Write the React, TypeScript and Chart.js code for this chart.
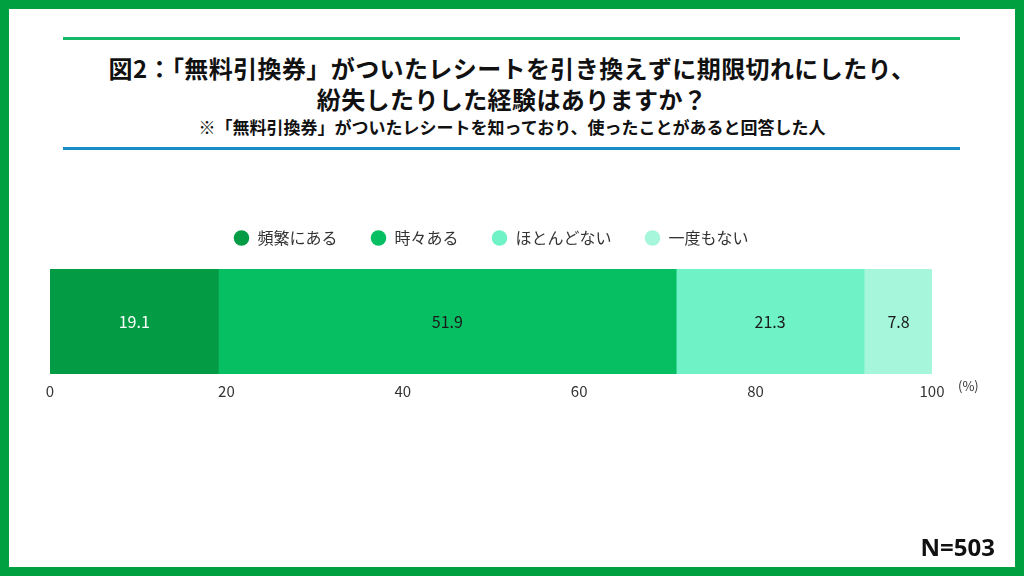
import React, { useEffect, useRef } from "react";
import { Chart, registerables } from "chart.js";

Chart.register(...registerables);

const categories = ["回答"];
const seriesNames = ["頻繁にある", "時々ある", "ほとんどない", "一度もない"];
const seriesValues = [19.1, 51.9, 21.3, 7.8];
const seriesColors = ["#049B45", "#05BF62", "#6EF2C6", "#A5F6DA"];
const labelColors = ["#FFFFFF", "#1A1A1A", "#1A1A1A", "#1A1A1A"];
const tickValues = [0, 20, 40, 60, 80, 100];

const titleLine1 = "図2：「無料引換券」がついたレシートを引き換えずに期限切れにしたり、";
const titleLine2 = "紛失したりした経験はありますか？";
const subTitle = "※「無料引換券」がついたレシートを知っており、使ったことがあると回答した人";
const sampleNote = "N=503";

const FONT = "'Noto Sans CJK JP', 'Noto Sans', sans-serif";

export default function App() {
  const canvasRef = useRef<HTMLCanvasElement | null>(null);

  useEffect(() => {
    document.body.style.margin = "0";
    const canvas = canvasRef.current;
    if (!canvas) return;

    const valueLabels = {
      id: "valueLabels",
      afterDatasetsDraw(chart: any) {
        const ctx = chart.ctx;
        ctx.save();
        ctx.font = `16px ${FONT}`;
        ctx.textAlign = "center";
        ctx.textBaseline = "middle";
        chart.data.datasets.forEach((ds: any, i: number) => {
          const meta = chart.getDatasetMeta(i);
          meta.data.forEach((el: any, j: number) => {
            const p = el.getCenterPoint();
            ctx.fillStyle = labelColors[i];
            ctx.fillText(String(ds.data[j]), p.x, p.y);
          });
        });
        ctx.restore();
      },
      afterDraw(chart: any) {
        const ctx = chart.ctx;
        const xs = chart.scales.x;
        ctx.save();
        ctx.font = `13px ${FONT}`;
        ctx.fillStyle = "#333";
        ctx.textAlign = "left";
        ctx.textBaseline = "middle";
        ctx.fillText("(%)", xs.right + 26, xs.top + 12);
        ctx.restore();
      },
    };

    const legendSpacing = {
      id: "legendSpacing",
      beforeInit(chart: any) {
        const legend = chart.legend;
        if (!legend) return;
        const orig = legend.fit;
        legend.fit = function () {
          orig.bind(legend)();
          this.height = 72;
        };
      },
    };

    const chart = new Chart(canvas, {
      type: "bar",
      data: {
        labels: categories,
        datasets: seriesNames.map((name, i) => ({
          label: name,
          data: [seriesValues[i]],
          backgroundColor: seriesColors[i],
          borderWidth: 0,
          borderRadius: i === seriesNames.length - 1 ? { topRight: 4, bottomRight: 4, topLeft: 0, bottomLeft: 0 } : 0,
          borderSkipped: false,
          barPercentage: 1,
          categoryPercentage: 1,
        })),
      },
      options: {
        indexAxis: "y",
        responsive: false,
        animation: false,
        maintainAspectRatio: false,
        layout: { padding: { left: 50, right: 92, top: 197, bottom: 176 } },
        plugins: {
          legend: {
            position: "top",
            labels: {
              usePointStyle: true,
              pointStyle: "circle",
              boxWidth: 16,
              boxHeight: 11,
              padding: 33,
              color: "#333",
              font: { family: FONT, size: 16 },
            },
          },
          tooltip: { enabled: false },
        },
        scales: {
          x: {
            stacked: true,
            min: 0,
            max: 100,
            afterBuildTicks(scale: any) {
              scale.ticks = tickValues.map((v) => ({ value: v }));
            },
            grid: { display: false },
            border: { display: false },
            ticks: { color: "#333", padding: 0, font: { family: FONT, size: 15 } },
          },
          y: {
            stacked: true,
            display: false,
            grid: { display: false },
          },
        },
      },
      plugins: [valueLabels, legendSpacing],
    } as any);

    return () => chart.destroy();
  }, []);

  return (
    <div style={{ position: "fixed", left: 0, top: 0, width: 1024, height: 576, background: "#fff", overflow: "hidden", fontFamily: FONT }}>
      <div style={{ position: "absolute", left: 0, top: 0, width: 1024, height: 576, boxSizing: "border-box", border: "9px solid #00A040" }} />
      <div style={{ position: "absolute", left: 63, top: 37, width: 897, height: 3, background: "#17B86A" }} />
      <div style={{ position: "absolute", left: 63, top: 147, width: 897, height: 3, background: "#1A8BC9" }} />
      <div style={{ position: "absolute", left: 0, top: 52, width: 1024, textAlign: "center", fontWeight: 700, fontSize: 24, letterSpacing: "0.4px", lineHeight: "31px", color: "#111" }}>
        {titleLine1}
        <br />
        {titleLine2}
      </div>
      <div style={{ position: "absolute", left: 0, top: 116, width: 1024, textAlign: "center", fontWeight: 700, fontSize: 17, lineHeight: "22px", color: "#111" }}>
        {subTitle}
      </div>
      <canvas ref={canvasRef} width={1024} height={576} style={{ position: "absolute", left: 0, top: 0, width: 1024, height: 576 }} />
      <div style={{ position: "absolute", right: 29, top: 531, fontWeight: 700, fontSize: 24, lineHeight: "32px", color: "#111", fontFamily: "'Noto Sans', 'Liberation Sans', sans-serif" }}>
        {sampleNote}
      </div>
    </div>
  );
}
